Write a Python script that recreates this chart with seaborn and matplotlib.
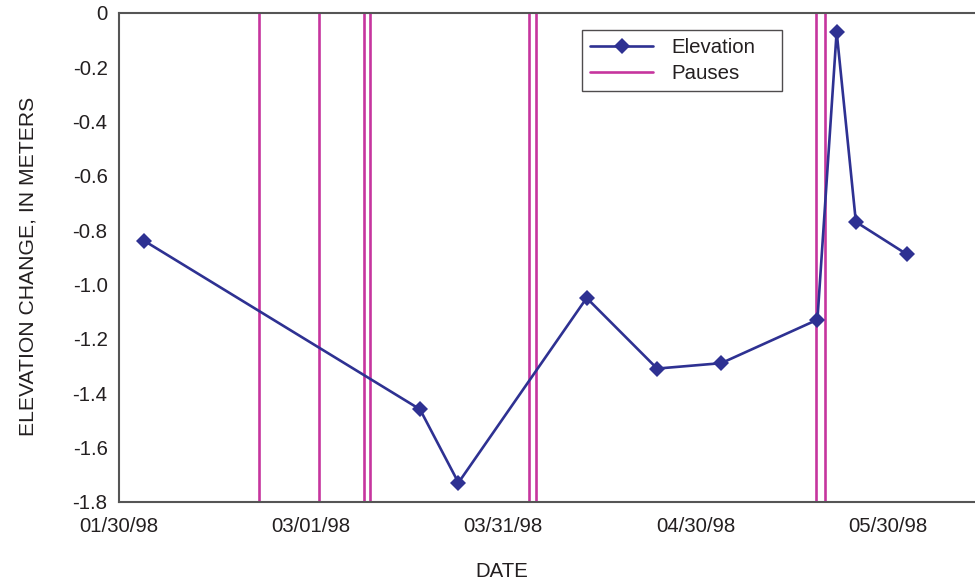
import matplotlib
matplotlib.use("Agg")
import matplotlib.pyplot as plt
import pandas as pd
import seaborn as sns

# ---- data ----
elev_dates = ["1998-02-03", "1998-03-18", "1998-03-24", "1998-04-13", "1998-04-24",
              "1998-05-04", "1998-05-19", "1998-05-22", "1998-05-25", "1998-06-02"]
elev_values = [-0.84, -1.46, -1.73, -1.05, -1.31, -1.29, -1.13, -0.07, -0.77, -0.89]
pause_dates = ["1998-02-20 22:00", "1998-03-02 07:00", "1998-03-09 06:30", "1998-03-10 06:00",
               "1998-04-04 01:30", "1998-04-05 01:00", "1998-05-18 19:00", "1998-05-20 04:30"]
x_tick_dates = ["1998-01-30", "1998-03-01", "1998-03-31", "1998-04-30", "1998-05-30"]
x_tick_labels = ["01/30/98", "03/01/98", "03/31/98", "04/30/98", "05/30/98"]
y_ticks = [0, -0.2, -0.4, -0.6, -0.8, -1.0, -1.2, -1.4, -1.6, -1.8]
y_tick_labels = ["0", "-0.2", "-0.4", "-0.6", "-0.8", "-1.0", "-1.2", "-1.4", "-1.6", "-1.8"]

df = pd.DataFrame({"date": pd.to_datetime(elev_dates), "elev": elev_values})

sns.set_style("white")
plt.rcParams["font.family"] = ["Liberation Sans", "DejaVu Sans"]
plt.rcParams["axes.unicode_minus"] = False

LINE = "#2E3192"
PAUSE = "#C6359E"
TXT = "#231F20"
SPINE = "#555555"
FS = 14.7

W, H = 975, 580
L, R, T, B = 118.7, 975, 12.7, 501.7
AW, AH = R - L, B - T

fig = plt.figure(figsize=(W / 100, H / 100), dpi=100)
ax = fig.add_axes([L / W, 1 - B / H, AW / W, AH / H])

for i, d in enumerate(pd.to_datetime(pause_dates)):
    ax.axvline(d, color=PAUSE, lw=1.9, label="Pauses" if i == 0 else None, zorder=1)

sns.lineplot(data=df, x="date", y="elev", ax=ax, color=LINE, lw=1.9, marker="D",
             markersize=8, markeredgewidth=0, label="Elevation", zorder=3)

ax.set_xlim(pd.Timestamp("1998-01-30"), pd.Timestamp("1998-06-12 14:00"))
ax.set_ylim(-1.8, 0)

ax.set_xticks(pd.to_datetime(x_tick_dates))
ax.set_xticklabels(x_tick_labels)
ax.set_yticks(y_ticks)
ax.set_yticklabels(y_tick_labels)

ax.tick_params(axis="both", direction="in", length=8, width=1.2, color=SPINE,
               labelsize=FS, labelcolor=TXT)
ax.tick_params(axis="x", pad=11)
ax.tick_params(axis="y", pad=8)

for s in ["left", "bottom", "top"]:
    ax.spines[s].set_color(SPINE)
    ax.spines[s].set_linewidth(1.5)
ax.spines["right"].set_visible(False)

ax.set_xlabel("DATE", fontsize=FS, color=TXT)
ax.set_ylabel("ELEVATION CHANGE, IN METERS", fontsize=15.2, color=TXT)
ax.xaxis.set_label_coords((502 - L) / AW, -(562 - B) / AH)
ax.yaxis.set_label_coords(-(L - 38) / AW, (B - 266.5) / AH)

handles, labels = ax.get_legend_handles_labels()
order = [labels.index("Elevation"), labels.index("Pauses")]
x0 = (582 - L) / AW
y1 = 1 - (30 - T) / AH
y0 = 1 - (93 - T) / AH
leg = ax.legend([handles[i] for i in order], [labels[i] for i in order],
                loc="upper left", bbox_to_anchor=(x0, y0, (782 - 582) / AW, y1 - y0),
                mode="expand", borderaxespad=0, fontsize=FS, frameon=True,
                fancybox=False, shadow=False, handlelength=3.1, handletextpad=0.9,
                labelspacing=0.35, borderpad=0.4)
leg.get_frame().set_edgecolor("#231F20")
leg.get_frame().set_linewidth(1.0)
for t in leg.get_texts():
    t.set_color(TXT)

fig.savefig("out.png", dpi=100)
